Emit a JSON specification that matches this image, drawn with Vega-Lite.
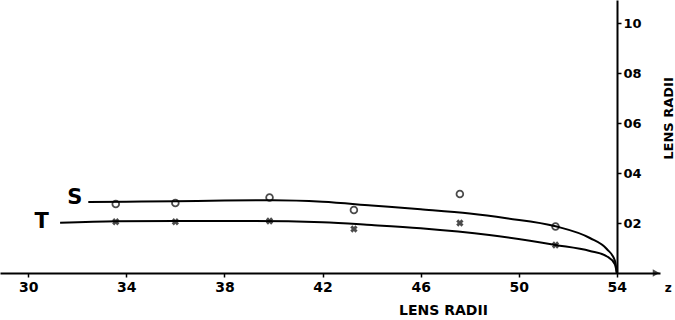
{
  "$schema": "https://vega.github.io/schema/vega-lite/v6.json",
  "autosize": {"type": "none"},
  "width": 660,
  "height": 273,
  "padding": {"left": 0, "top": 0, "right": 15, "bottom": 47},
  "background": "white",
  "config": {
    "view": {"stroke": null},
    "font": "DejaVu Sans",
    "axis": {"grid": false, "domainColor": "black", "tickColor": "black", "labelColor": "black", "titleColor": "black", "labelFont": "DejaVu Sans", "titleFont": "DejaVu Sans", "labelFontWeight": "bold", "titleFontWeight": "bold"}
  },
  "datasets": {
    "curves": [
      {"series": "S", "x": 32.45, "y": 0.284},
      {"series": "S", "x": 34.0, "y": 0.285},
      {"series": "S", "x": 36.0, "y": 0.287},
      {"series": "S", "x": 38.0, "y": 0.29},
      {"series": "S", "x": 40.0, "y": 0.291},
      {"series": "S", "x": 42.0, "y": 0.285},
      {"series": "S", "x": 44.0, "y": 0.27},
      {"series": "S", "x": 46.0, "y": 0.255},
      {"series": "S", "x": 48.0, "y": 0.238},
      {"series": "S", "x": 49.5, "y": 0.219},
      {"series": "S", "x": 51.5, "y": 0.187},
      {"series": "S", "x": 52.9, "y": 0.14},
      {"series": "S", "x": 53.6, "y": 0.095},
      {"series": "S", "x": 53.92, "y": 0.05},
      {"series": "S", "x": 54.0, "y": 0.0},
      {"series": "T", "x": 31.3, "y": 0.201},
      {"series": "T", "x": 33.6, "y": 0.207},
      {"series": "T", "x": 36.0, "y": 0.208},
      {"series": "T", "x": 39.0, "y": 0.208},
      {"series": "T", "x": 42.0, "y": 0.203},
      {"series": "T", "x": 44.0, "y": 0.192},
      {"series": "T", "x": 46.0, "y": 0.179},
      {"series": "T", "x": 48.8, "y": 0.152},
      {"series": "T", "x": 51.5, "y": 0.112},
      {"series": "T", "x": 52.9, "y": 0.088},
      {"series": "T", "x": 53.6, "y": 0.066},
      {"series": "T", "x": 53.92, "y": 0.035},
      {"series": "T", "x": 54.0, "y": 0.0}
    ],
    "points": [
      {"series": "S", "x": 33.57, "y": 0.276},
      {"series": "S", "x": 36.0, "y": 0.28},
      {"series": "S", "x": 39.84, "y": 0.302},
      {"series": "S", "x": 43.28, "y": 0.252},
      {"series": "S", "x": 47.6, "y": 0.316},
      {"series": "S", "x": 51.5, "y": 0.186},
      {"series": "T", "x": 33.57, "y": 0.205},
      {"series": "T", "x": 36.0, "y": 0.205},
      {"series": "T", "x": 39.84, "y": 0.208},
      {"series": "T", "x": 43.28, "y": 0.176},
      {"series": "T", "x": 47.6, "y": 0.2},
      {"series": "T", "x": 51.5, "y": 0.112}
    ],
    "labels": [
      {"label": "S", "x": 31.9, "y": 0.3},
      {"label": "T", "x": 30.55, "y": 0.204}
    ],
    "ends": [
      {"label": "z", "x": 56.1, "y": -0.06}
    ],
    "arrow": [
      {"x": 55.6, "y": 0.0}
    ]
  },
  "layer": [
    {
      "data": {"name": "curves"},
      "mark": {"type": "line", "interpolate": "monotone", "color": "black", "strokeWidth": 2},
      "encoding": {
        "x": {
          "field": "x", "type": "quantitative",
          "scale": {"domain": [28.85, 55.76], "nice": false, "zero": false},
          "axis": {
            "orient": "bottom", "values": [30, 34, 38, 42, 46, 50, 54], "format": "d",
            "domainWidth": 2, "tickWidth": 1.5, "tickSize": 4, "labelFontSize": 14, "labelPadding": 3,
            "title": "LENS RADII", "titleFontSize": 14, "titleX": 443, "titleY": 37, "titleAlign": "center", "titleBaseline": "middle"
          }
        },
        "y": {
          "field": "y", "type": "quantitative",
          "scale": {"domain": [0, 1.092], "nice": false, "zero": true},
          "axis": {
            "orient": "right", "offset": -43, "values": [0.2, 0.4, 0.6, 0.8, 1.0],
            "labelExpr": "replace(format(datum.value, '.1f'), '.', '')",
            "domainWidth": 2, "tickWidth": 1.5, "tickSize": 4, "labelFontSize": 13, "labelPadding": 2,
            "title": "LENS RADII", "titleFontSize": 13, "titleAngle": -90, "titleX": 51, "titleY": 118, "titleAlign": "center", "titleBaseline": "middle"
          }
        },
        "detail": {"field": "series"}
      }
    },
    {
      "data": {"name": "points"},
      "transform": [{"filter": "datum.series === 'S'"}],
      "mark": {"type": "point", "shape": "circle", "filled": false, "color": "black", "strokeWidth": 1.8, "size": 45},
      "encoding": {
        "x": {"field": "x", "type": "quantitative"},
        "y": {"field": "y", "type": "quantitative"}
      }
    },
    {
      "data": {"name": "points"},
      "transform": [{"filter": "datum.series === 'T'"}],
      "mark": {"type": "point", "shape": "cross", "angle": 45, "filled": true, "color": "black", "size": 55},
      "encoding": {
        "x": {"field": "x", "type": "quantitative"},
        "y": {"field": "y", "type": "quantitative"}
      }
    },
    {
      "data": {"name": "labels"},
      "mark": {"type": "text", "font": "DejaVu Sans", "fontWeight": "bold", "fontSize": 21, "color": "black", "align": "center", "baseline": "middle"},
      "encoding": {
        "x": {"field": "x", "type": "quantitative"},
        "y": {"field": "y", "type": "quantitative"},
        "text": {"field": "label"}
      }
    },
    {
      "data": {"name": "ends"},
      "mark": {"type": "text", "font": "DejaVu Sans", "fontWeight": "bold", "fontSize": 12, "color": "black", "align": "center", "baseline": "middle"},
      "encoding": {
        "x": {"field": "x", "type": "quantitative"},
        "y": {"field": "y", "type": "quantitative"},
        "text": {"field": "label"}
      }
    },
    {
      "data": {"name": "arrow"},
      "mark": {"type": "point", "shape": "triangle-right", "filled": true, "color": "black", "size": 60},
      "encoding": {
        "x": {"field": "x", "type": "quantitative"},
        "y": {"field": "y", "type": "quantitative"}
      }
    }
  ]
}
